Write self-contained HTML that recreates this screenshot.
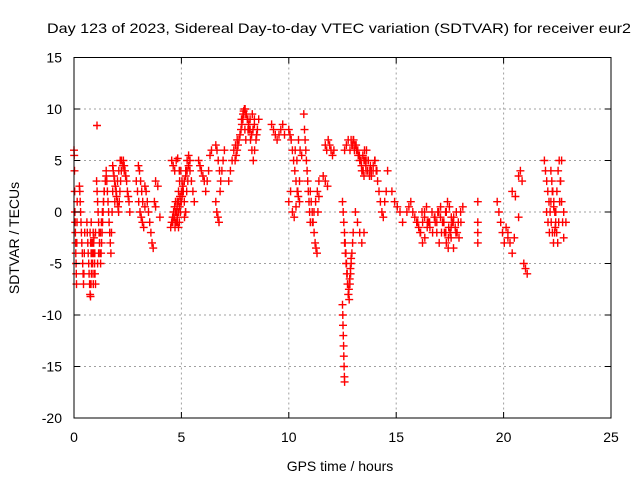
<!DOCTYPE html>
<html><head><meta charset="utf-8"><style>
html,body{margin:0;padding:0;background:#fff}
svg{display:block;font-family:"Liberation Sans",Arial,sans-serif}
</style></head><body>
<svg id="chart" width="640" height="480" viewBox="0 0 640 480" xmlns="http://www.w3.org/2000/svg">
<rect width="640" height="480" fill="#fff"/>
<text x="339" y="33" font-size="14" text-anchor="middle" textLength="584" lengthAdjust="spacingAndGlyphs">Day 123 of 2023, Sidereal Day-to-day VTEC variation (SDTVAR) for receiver eur2</text>
<g id="grid"></g>
<g id="points"></g>
<g id="axes"></g>
<text x="340" y="471" font-size="14" text-anchor="middle">GPS time / hours</text>
<text x="0" y="0" font-size="14" text-anchor="middle" transform="translate(19,238) rotate(-90)">SDTVAR / TECUs</text>
</svg>
<script>
const xTicks=[0,5,10,15,20,25];
const yTicks=[15,10,5,0,-5,-10,-15,-20];
const segStart=[0.0,0.25,0.6,0.75,1.05,1.1,1.5,1.8,1.9,2.3,2.9,3.0,3.3,3.8,4.5,4.7,5.0,4.55,5.8,6.6,6.6,7.2,7.5,7.9,8.0,9.2,10.0,10.0,10.3,10.7,11.0,11.1,11.7,11.6,12.5,12.5,12.6,13.0,13.2,14.0,13.1,14.8,15.5,16.0,16.8,17.3,17.0,18.8,19.7,20.2,20.7,20.4,21.9,22.0,22.7,1.07,
4.6,4.7,7.8,12.9,13.5,16.2,12.6,0.8,22.2];
const segEnd=[0.15,0.5,1.0,0.95,1.4,1.5,1.8,2.2,2.4,2.6,3.3,3.2,3.8,4.0,5.0,5.3,5.6,4.9,6.4,7.0,6.8,7.6,8.0,8.6,8.5,9.8,10.5,10.5,10.6,11.0,11.4,11.4,12.1,11.8,13.0,12.6,13.1,14.0,13.8,14.6,13.5,15.3,16.5,17.0,17.6,18.1,18.0,18.8,20.2,20.5,21.1,20.7,22.8,22.4,22.9,1.07,
5.4,5.2,8.4,13.6,14.1,17.8,12.9,1.0,22.7];
const segValues=[
[6,5.5,4,2,0,-1,-2,-3,-4,-5,-6,-7,-3,-1,1],
[2.5,2,1,0,-1,-2,-3,-4,-5,-6,-7,-6,-4,-2],
[-1,-2,-3,-4,-5,-6,-7,-8,-8.2,-7,-6,-5,-4,-3,-2,-3,-4,-5,-6,-7],
[-2,-3,-4,-5,-6,-5,-4,-3,-2.5,-4],
[3,2,1,0,-1,-2,-3,-4,-5,-4,-3,-2,-1,0,1,2],
[-5,-4,-3,-2,-1,0,1,2,3,3.5],
[4,3,2,1,0,-1,-2,-3,-4,-2,0,2],
[4.5,4,3.5,3,2.5,2,1.5,1,0.5,0,1,2,3,4],
[1,2,3,4,5,5,4.5,4,3.5],
[5,4.5,4,3.5,3,2,1.5,1,0],
[3,2,1,0,-0.5,-1,-1.5,0.5],
[4.5,4,3,2,1],
[2.5,2,1,0,-1,-2,-3,-3.5,1,0.5],
[3,2.5,-0.5],
[-1.5,-1,-0.5,0,0.5,1,0,-1,-1.5,-1,0,1],
[-1,0,1,2,3,4,3,2,1,0,2,3],
[1,2,3,4,5,5.5,4,3,2,1],
[5,4.5,4,5,5.2,4],
[5,4.5,4,3.5,3,2,3,4,5.5,6],
[6.5,6,5,4,3,4,5,6],
[1,0,-0.5,-1,2],
[3,4,5,6,6.5,7],
[5,5.5,6,6.5,7,7.5,8,8.5,9,9.5,8,7],
[9.8,10,9.5,9,8,7,6,5,6,7,8,9],
[7,8,9,9.5,8.5,7.5],
[8.5,8,7.5,7,7.5,8,8.5,7.5],
[8,7.5,7,6,5,4,3,2,1.5,1],
[1,2,0,-0.5,0.5,2,3],
[6,5,7,6,5.5],
[9.5,8,7,6,5,4,3,2,1,0,-1],
[2,1,0,-1,-2,-3,-3.5,-4,0,1.5],
[-1,0,1,2,3],
[6.5,6,7,6.5,6,5.5,6],
[3.5,3,2.5],
[1,0,-1,-2,-3,-4,-5,-6,-7,-8,-8.5,-7,-6,-5,-4,-3,-2],
[-9,-10,-11,-12,-13,-14,-15,-16,-16.5],
[6,6.5,7,6,6.5,7,6.5],
[7,6.5,6,5.5,5,4.5,4,5,6,5,4,3.5,4,5],
[6,5,4,3.5,4,5,4.5],
[5,4,3,2,1,0,-0.5,1,2,4],
[0,-1,-2,-3,-2],
[2,1,0.5,0,-1],
[0,0.5,1,0,-0.5,-1,-1.5,-2,-1,0,0.5,-1],
[-1,-2,-3,-2.5,-1.5,-1,0,-0.5,-2,-3],
[-0.5,-1,0,0.5,-1,-2,-3,-3.5,-2,-1],
[0,1,0.5,-0.5,-1,-1.5,-2,-2.5,-1,0.5],
[-3,-2,-1,0,-1.5,-2.5,-3.5,-2,-1,0],
[1,-1,-2,-3],
[1,0,-1,-2,-3,-1.5,-2.5],
[-2,-3,-4,-2.5],
[3.5,4,3,-5,-5.5,-6],
[2,1.5,-0.5],
[5,4,3,2,1,0,-1,-2,-3,-2,0,2,4,5,3,1,-1,-2.5],
[0,-1,-2,1,2,0.5,-1.5],
[1,0,-1],
[8.4],
[-1,-0.5,0,0.5,1,1.5,2,2.5,3,3.5,4,4.5,5],
[-1.5,-1,-0.5,0,0.5,1,1.5,2,-0.5,0],
[9,9.5,10,9.5,9,8.5,8,7.5,8,9],
[7,6.5,6,6.5,6,5.5,5,5.5,6,5],
[5,4.5,4,3.5,4,4.5,5,4],
[0,-0.5,-1,-1.5,-2,-1,0,-0.5,-1,-2,-2.5,-1.5,-0.5,0],
[-3,-4,-5,-6,-7,-8,-7.5,-6.5,-5.5,-4.5],
[-1,-3,-5,-7,-6,-4,-2],
[4,3,2,1,0,-1,-2,-3,-1,1,3,5]
];
const X0=74,X1=611,Y0=418,Y1=57.5;
const xMin=0,xMax=25,yMin=-20,yMax=15;
function sx(t){return X0+(t-xMin)/(xMax-xMin)*(X1-X0);}
function sy(v){return Y0-(v-yMin)/(yMax-yMin)*(Y0-Y1);}
const NS="http://www.w3.org/2000/svg";
function mk(tag,attrs,parent){const e=document.createElementNS(NS,tag);for(const k in attrs)e.setAttribute(k,attrs[k]);parent.appendChild(e);return e;}
const grid=document.getElementById('grid'),axes=document.getElementById('axes'),pts=document.getElementById('points');
xTicks.forEach(t=>{
  const x=sx(t);
  if(t>xMin&&t<xMax){const g=mk('line',{x1:x,y1:Y1,x2:x,y2:Y0,stroke:'#a0a0a0','stroke-dasharray':'2,3','stroke-width':1},grid);
    
    }
  mk('line',{x1:x,y1:Y0,x2:x,y2:Y0-6,stroke:'#000'},axes);
  mk('line',{x1:x,y1:Y1,x2:x,y2:Y1+6,stroke:'#000'},axes);
  const l=mk('text',{x:x,y:Y0+24,'font-size':14,'text-anchor':'middle'},axes);
  l.textContent=t;
  
  
});
yTicks.forEach(v=>{
  const y=sy(v);
  if(v>yMin&&v<yMax){const g=mk('line',{x1:X0,y1:y,x2:X1,y2:y,stroke:'#a0a0a0','stroke-dasharray':'2,3','stroke-width':1},grid);
    
    }
  mk('line',{x1:X0,y1:y,x2:X0+6,y2:y,stroke:'#000'},axes);
  mk('line',{x1:X1,y1:y,x2:X1-6,y2:y,stroke:'#000'},axes);
  const l=mk('text',{x:X0-12,y:y+5,'font-size':14,'text-anchor':'end'},axes);
  l.textContent=v;
  
  
});
const fr=mk('rect',{x:X0,y:Y1,width:X1-X0,height:Y0-Y1,fill:'none',stroke:'#000','stroke-width':1},axes);


let d='';
segValues.forEach((vals,i)=>{
  const n=vals.length,t0=segStart[i],t1=segEnd[i];
  vals.forEach((v,j)=>{
    const t=n>1?t0+(t1-t0)*j/(n-1):t0;
    const x=sx(t),y=sy(v);
    d+=`M${(x-4).toFixed(1)} ${y.toFixed(1)}h8M${x.toFixed(1)} ${(y-4).toFixed(1)}v8`;
  });
});
const p=mk('path',{d:d,stroke:'#ff0000','stroke-width':1.4,fill:'none'},pts);


</script>
</body></html>
